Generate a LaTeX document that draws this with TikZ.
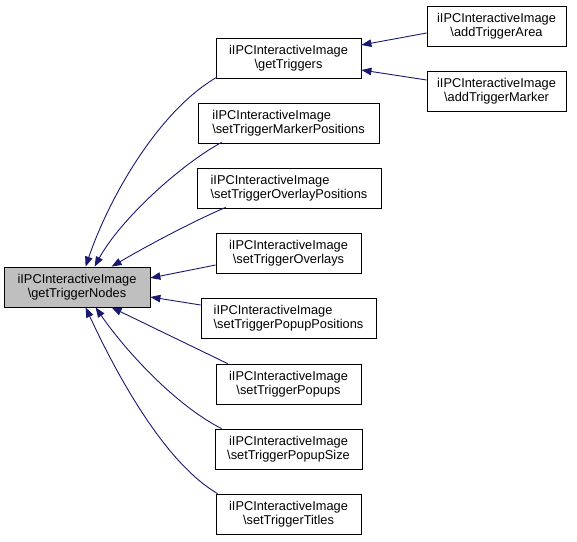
\documentclass[tikz,border=0pt]{standalone}
\usepackage{fontspec}
\setmainfont{Liberation Sans}
\usetikzlibrary{arrows.meta,calc}
\definecolor{edgeblue}{HTML}{191970}
\definecolor{maingray}{HTML}{BFBFBF}
\begin{document}
\begin{tikzpicture}[x=1pt,y=-1pt,
  box/.style={draw=black, line width=0.8pt, fill=white, inner sep=0pt,
    minimum height=40pt, align=center, font=\fontsize{12.8}{14.5}\selectfont},
  lbox/.style={box, align=left},
  edge/.style={draw=edgeblue, line width=0.9pt, -{Triangle[length=10pt,width=7.5pt]}}]
\useasboundingbox (0,0) rectangle (577,541);
\node[box, fill=maingray, minimum width=146pt] (main) at (77,287) {iIPCInteractiveImage\\\textbackslash getTriggerNodes};
\node[box, minimum width=145pt] (gt) at (288.5,58) {iIPCInteractiveImage\\\textbackslash getTriggers};
\node[box, minimum width=139pt] (ata) at (496.5,26) {iIPCInteractiveImage\\\textbackslash addTriggerArea};
\node[box, minimum width=139pt] (atm) at (496.5,91) {iIPCInteractiveImage\\\textbackslash addTriggerMarker};
\node[lbox, minimum width=181pt] (stmp) at (288.5,123) {iIPCInteractiveImage\\\textbackslash setTriggerMarkerPositions};
\node[lbox, minimum width=184pt] (stop) at (289,188) {iIPCInteractiveImage\\\textbackslash setTriggerOverlayPositions};
\node[box, minimum width=145pt] (sto) at (288.5,253) {iIPCInteractiveImage\\\textbackslash setTriggerOverlays};
\node[lbox, minimum width=175pt] (stpp) at (288.5,318) {iIPCInteractiveImage\\\textbackslash setTriggerPopupPositions};
\node[box, minimum width=145pt] (stp) at (288.5,384) {iIPCInteractiveImage\\\textbackslash setTriggerPopups};
\node[box, minimum width=147pt] (stps) at (288.5,449) {iIPCInteractiveImage\\\textbackslash setTriggerPopupSize};
\node[box, minimum width=145pt] (stt) at (288.5,514) {iIPCInteractiveImage\\\textbackslash setTriggerTitles};

\draw[edge] ($(gt.south west)+(1,-1)$) .. controls (160,110) and (110,195) .. ($(main.north west)+(82,0)$);
\draw[edge] ($(stmp.south west)+(24,-1)$) .. controls (180,165) and (120,220) .. ($(main.north west)+(91,0)$);
\draw[edge] ($(stop.south west)+(29,-1)$) .. controls (185,225) and (140,250) .. ($(main.north west)+(108,0)$);
\draw[edge] ($(sto.west)+(0,12)$) -- ($(main.east)+(0,-9)$);
\draw[edge] ($(stpp.west)+(0,-13)$) -- ($(main.east)+(0,10)$);
\draw[edge] ($(stp.north west)+(12,0)$) -- ($(main.south west)+(108,0)$);
\draw[edge] ($(stps.north west)+(7,0)$) .. controls (175,405) and (125,350) .. ($(main.south west)+(92,0)$);
\draw[edge] ($(stt.north west)+(2,0)$) .. controls (160,460) and (110,360) .. ($(main.south west)+(82,0)$);
\draw[edge] ($(ata.west)+(0,7)$) -- ($(gt.east)+(0,-13)$);
\draw[edge] ($(atm.west)+(0,-11)$) -- ($(gt.east)+(0,12)$);
\end{tikzpicture}
\end{document}
